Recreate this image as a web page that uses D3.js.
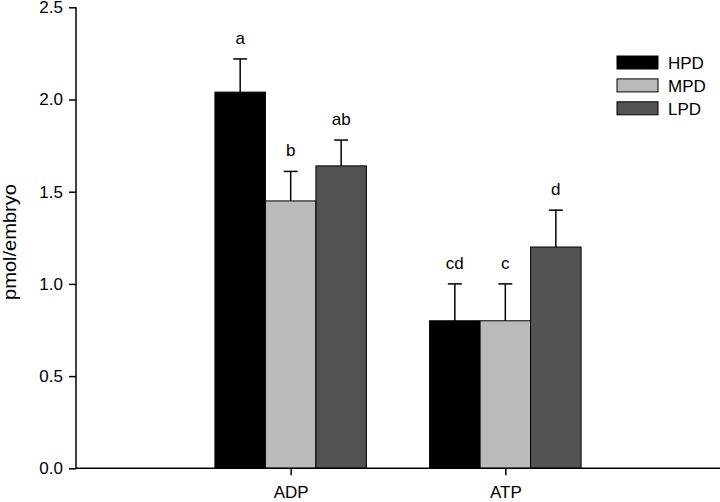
<!DOCTYPE html>
<html><head><meta charset="utf-8">
<script src="https://cdn.jsdelivr.net/npm/d3@7"></script>
<style>body{margin:0;background:#fff}svg{display:block}text{font-family:"Liberation Sans",Arial,sans-serif}</style>
</head><body>
<svg id="c" width="720" height="502"></svg>
<script>
const categories = ["ADP", "ATP"];
const seriesNames = ["HPD", "MPD", "LPD"];
const seriesColors = ["#000000", "#bababa", "#535353"];
const values = [[2.04, 0.80], [1.45, 0.80], [1.64, 1.20]];
const errors = [[0.18, 0.20], [0.16, 0.20], [0.14, 0.20]];
const letters = [["a", "cd"], ["b", "c"], ["ab", "d"]];
const yTicks = [0, 0.5, 1.0, 1.5, 2.0, 2.5];

const svg = d3.select("#c");
const x = d3.scaleLinear().domain([0, 3]).range([76, 720]);
const y = d3.scaleLinear().domain([0, 2.5]).range([468.3, 7.3]);
const barW = 50.5;

const data = [];
seriesNames.forEach((s, si) => categories.forEach((c, ci) => {
  data.push({si, ci, v: values[si][ci], e: errors[si][ci], l: letters[si][ci]});
}));
const bx = d => x(d.ci + 1) + (d.si - 1.5) * barW;

// bars
svg.append("g").selectAll("rect").data(data).join("rect")
  .attr("x", bx).attr("width", barW)
  .attr("y", d => y(d.v)).attr("height", d => y(0) - y(d.v))
  .attr("fill", d => seriesColors[d.si]).attr("stroke", "#000").attr("stroke-width", 1);

// error bars
const eg = svg.append("g").attr("stroke", "#000").attr("stroke-width", 1.5);
data.forEach(d => {
  const cx = bx(d) + barW / 2;
  eg.append("line").attr("x1", cx).attr("x2", cx).attr("y1", y(d.v)).attr("y2", y(d.v + d.e));
  eg.append("line").attr("x1", cx - 7).attr("x2", cx + 7).attr("y1", y(d.v + d.e)).attr("y2", y(d.v + d.e));
});
// letters
svg.append("g").selectAll("text").data(data).join("text")
  .attr("x", d => bx(d) + barW / 2).attr("y", d => y(d.v + d.e) - 15)
  .attr("text-anchor", "middle").attr("font-size", 17).text(d => d.l);

// y axis
const ya = svg.append("g").attr("transform", "translate(76,0)")
  .call(d3.axisLeft(y).tickValues(yTicks).tickFormat(d3.format(".1f")).tickSize(7).tickPadding(6));
ya.select(".domain").attr("stroke-width", 1.5).attr("d", `M0,${y(2.5)}V${y(0)}`);
ya.selectAll(".tick line").attr("stroke-width", 1.5);
ya.selectAll("text").attr("font-size", 17).attr("font-family", "Liberation Sans, Arial, sans-serif").attr("fill", "#000");

// x axis
const xa = svg.append("g").attr("transform", `translate(0,${y(0)})`)
  .call(d3.axisBottom(x).tickValues([1, 2]).tickFormat(d => categories[d - 1]).tickSize(7).tickPadding(11));
xa.select(".domain").attr("stroke-width", 1.5).attr("d", `M76,0H720`);
xa.selectAll(".tick line").attr("stroke-width", 1.5);
xa.selectAll("text").attr("font-size", 17).attr("font-family", "Liberation Sans, Arial, sans-serif").attr("fill", "#000");

// y label
svg.append("text").attr("transform", "translate(16,242) rotate(-90)")
  .attr("text-anchor", "middle").attr("font-size", 18)
  .attr("textLength", 116).attr("lengthAdjust", "spacingAndGlyphs").text("pmol/embryo");

// legend
const lg = svg.append("g");
seriesNames.forEach((s, i) => {
  const yy = 56 + i * 22.9;
  lg.append("rect").attr("x", 617).attr("y", yy).attr("width", 41).attr("height", 13)
    .attr("fill", seriesColors[i]).attr("stroke", "#000").attr("stroke-width", 1);
  lg.append("text").attr("x", 668).attr("y", yy + 13).attr("font-size", 17).text(s);
});
</script>
</body></html>
